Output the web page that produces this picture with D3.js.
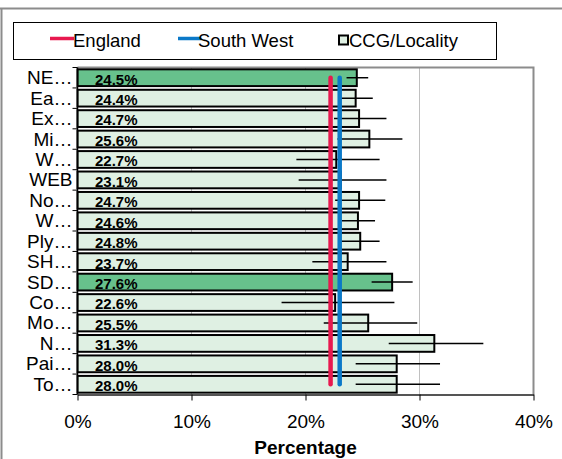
<!DOCTYPE html>
<html><head><meta charset="utf-8">
<script src="https://cdn.jsdelivr.net/npm/d3@7"></script>
<style>html,body{margin:0;padding:0;background:#fff;overflow:hidden;}svg{display:block;font-family:"Liberation Sans",Arial,sans-serif;}</style>
</head><body>
<svg id="c" width="562" height="459"></svg>
<script>
const categories = ["NE…","Ea…","Ex…","Mi…","W…","WEB","No…","W…","Ply…","SH…","SD…","Co…","Mo…","N…","Pai…","To…"];
const values = [24.5,24.4,24.7,25.6,22.7,23.1,24.7,24.6,24.8,23.7,27.6,22.6,25.5,31.3,28.0,28.0];
const lower = [23.6,22.9,22.5,22.8,19.2,19.4,22.6,23.2,23.1,20.6,25.8,17.9,21.6,27.3,24.4,24.4];
const upper = [25.5,25.9,27.1,28.5,26.5,27.1,27.0,26.1,26.5,27.1,29.4,27.8,29.8,35.6,31.8,31.8];
const highlighted = [true,false,false,false,false,false,false,false,false,false,true,false,false,false,false,false];
const englandValue = 22.2;
const southWestValue = 23.0;
const xTicks = [0,10,20,30,40];

const svg = d3.select("#c");
const L = 77.5, R = 533.5, T = 67.5, B = 394.5;
const x = d3.scaleLinear().domain([0,40]).range([L,R]);
const y = d3.scaleBand().domain(d3.range(categories.length)).range([T,B]).paddingInner(0.18).paddingOuter(0.09);

// outer border: top and left edges only
svg.append("line").attr("x1",0).attr("x2",562).attr("y1",8.5).attr("y2",8.5).attr("stroke","#8c8c8c").attr("stroke-width",2);
svg.append("line").attr("x1",1.5).attr("x2",1.5).attr("y1",8).attr("y2",459).attr("stroke","#8c8c8c").attr("stroke-width",2);

// gridlines
svg.append("g").selectAll("line").data(xTicks.slice(1,-1)).join("line")
  .attr("x1",d=>x(d)).attr("x2",d=>x(d)).attr("y1",T).attr("y2",B)
  .attr("stroke","#c0c0c0").attr("stroke-width",1);

// plot border (top/right gray)
svg.append("path").attr("d",`M${L},${T}H${R}V${B}`).attr("fill","none").attr("stroke","#8c8c8c").attr("stroke-width",2);

// bars
const fillLight = "#dff0e3", fillHi = "#67c18c";
svg.append("g").selectAll("rect").data(values).join("rect")
  .attr("x",x(0)).attr("y",(d,i)=>y(i)).attr("width",d=>x(d)-x(0)).attr("height",y.bandwidth())
  .attr("fill",(d,i)=>highlighted[i]?fillHi:fillLight).attr("stroke","#000").attr("stroke-width",2);

// error bars
svg.append("g").selectAll("line").data(values).join("line")
  .attr("x1",(d,i)=>x(lower[i])).attr("x2",(d,i)=>x(upper[i]))
  .attr("y1",(d,i)=>y(i)+y.bandwidth()/2).attr("y2",(d,i)=>y(i)+y.bandwidth()/2)
  .attr("stroke","#000").attr("stroke-width",1.5);

// value labels
svg.append("g").selectAll("text").data(values).join("text")
  .attr("x",95).attr("y",(d,i)=>y(i)+y.bandwidth()-1.5)
  .attr("font-size",15).attr("font-weight","bold").attr("fill","#000")
  .text(d=>d.toFixed(1)+"%");

// reference lines
const yTop = y(0)+y.bandwidth()/2, yBot = y(categories.length-1)+y.bandwidth()/2;
svg.append("line").attr("x1",x(englandValue)).attr("x2",x(englandValue)).attr("y1",yTop).attr("y2",yBot)
  .attr("stroke","#e8194f").attr("stroke-width",4.5).attr("stroke-linecap","round");
svg.append("line").attr("x1",x(southWestValue)).attr("x2",x(southWestValue)).attr("y1",yTop).attr("y2",yBot)
  .attr("stroke","#0b79c8").attr("stroke-width",4.5).attr("stroke-linecap","round");

// y axis
const yAxis = svg.append("g").attr("transform",`translate(${L},0)`);
yAxis.append("line").attr("x1",0).attr("x2",0).attr("y1",T).attr("y2",B).attr("stroke","#000").attr("stroke-width",1.5);
const bnd = d3.range(categories.length+1).map(i=>T+i*(B-T)/categories.length);
yAxis.selectAll("line.t").data(bnd).join("line").attr("class","t")
  .attr("x1",-5).attr("x2",0).attr("y1",d=>d).attr("y2",d=>d).attr("stroke","#000");
yAxis.selectAll("text").data(categories).join("text")
  .attr("x",-5).attr("y",(d,i)=>y(i)+y.bandwidth()/2+6.5).attr("text-anchor","end")
  .attr("font-size",19).attr("fill","#000").text(d=>d);

// x axis
const xAxis = svg.append("g").attr("transform",`translate(0,${B})`)
  .call(d3.axisBottom(x).tickValues(xTicks).tickFormat(d=>d+"%").tickSize(6).tickSizeOuter(0));
xAxis.select(".domain").attr("stroke","#555").attr("stroke-width",2);
xAxis.selectAll(".tick line").attr("stroke","#000");
xAxis.selectAll(".tick text").attr("font-size",19).attr("font-family","Liberation Sans, Arial, sans-serif").attr("fill","#000").attr("y",0).attr("dy",0).attr("transform","translate(0,33)");
svg.append("text").attr("x",(L+R)/2).attr("y",454).attr("text-anchor","middle")
  .attr("font-size",19).attr("font-weight","bold").text("Percentage");

// legend
const lg = svg.append("g");
lg.append("rect").attr("x",13.5).attr("y",22.5).attr("width",483).attr("height",37).attr("fill","#fff").attr("stroke","#000").attr("stroke-width",1);
lg.append("line").attr("x1",50).attr("x2",74).attr("y1",38.5).attr("y2",38.5).attr("stroke","#e8194f").attr("stroke-width",3.5);
lg.append("text").attr("x",73).attr("y",47).attr("font-size",18.5).text("England");
lg.append("line").attr("x1",178).attr("x2",201).attr("y1",38.5).attr("y2",38.5).attr("stroke","#0b79c8").attr("stroke-width",3.5);
lg.append("text").attr("x",198).attr("y",47).attr("font-size",18.5).text("South West");
lg.append("rect").attr("x",339).attr("y",35.5).attr("width",9).attr("height",9).attr("fill",fillLight).attr("stroke","#000").attr("stroke-width",2);
lg.append("text").attr("x",349).attr("y",47).attr("font-size",18.5).text("CCG/Locality");
</script>
</body></html>
